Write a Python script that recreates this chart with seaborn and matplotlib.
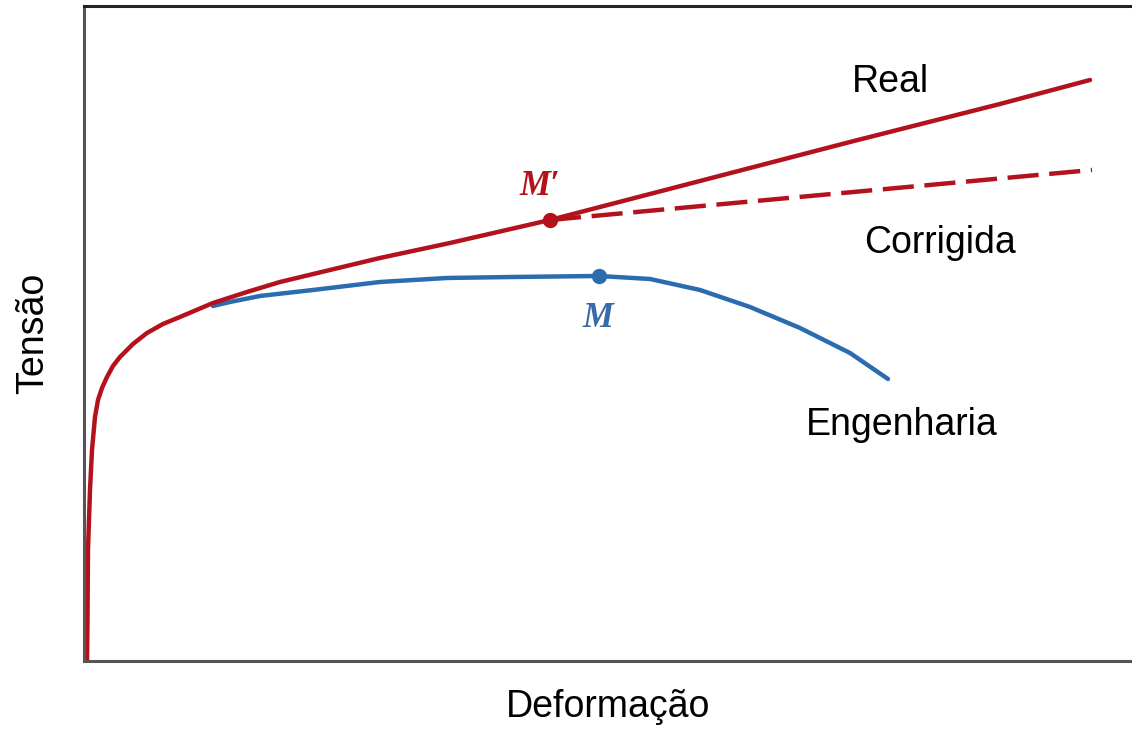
import matplotlib
matplotlib.use("Agg")
import matplotlib.pyplot as plt
import seaborn as sns
import pandas as pd

# curves (arbitrary units: strain -> x, stress -> y)
real_x = [3, 3.5, 4, 6, 8, 11, 14, 18, 23, 29, 36, 49, 63, 79, 96, 129, 163, 196,
          246, 296, 366, 466, 616, 766, 916, 1006]
real_y = [0, 41, 111, 171, 211, 244, 261, 273, 284, 295, 304, 317, 328, 337, 344,
          358, 369, 379, 391, 403, 418, 441, 480, 519, 557, 581]

corr_x = [466, 1008]
corr_y = [441, 491]

eng_x = [129, 146, 176, 229, 296, 363, 429, 515, 566, 616, 666, 716, 766, 804]
eng_y = [355, 359, 365, 371, 379, 383, 384, 385, 382, 371, 354, 333, 308, 282]

m_prime = (466, 441)
m_point = (515, 385)

RED = "#b3121c"
BLUE = "#2b6cb0"

sns.set_style("white")
plt.rcParams["font.family"] = ["Liberation Sans", "DejaVu Sans"]

fig = plt.figure(figsize=(11.32, 7.29), dpi=100)
ax = fig.add_axes([0.0742, 0.0933, 0.9258, 0.8985])

df_real = pd.DataFrame({"x": real_x, "y": real_y})
df_corr = pd.DataFrame({"x": corr_x, "y": corr_y})
df_eng = pd.DataFrame({"x": eng_x, "y": eng_y})

sns.lineplot(data=df_eng, x="x", y="y", sort=False, color=BLUE, lw=3.2, ax=ax)
sns.lineplot(data=df_real, x="x", y="y", sort=False, color=RED, lw=3.2, ax=ax)
sns.lineplot(data=df_corr, x="x", y="y", sort=False, color=RED, lw=3.2, ax=ax,
             linestyle=(0, (7, 2.4)))

ax.plot(*m_prime, "o", color=RED, ms=10, zorder=5)
ax.plot(*m_point, "o", color=BLUE, ms=10, zorder=5)

serif = ["Liberation Serif", "DejaVu Serif"]
ax.text(456, 474, "M\u2032", color=RED, fontsize=25, fontstyle="italic",
        fontweight="bold", family=serif, ha="center", va="center")
ax.text(514, 342, "M", color="#3a6aa8", fontsize=25, fontstyle="italic",
        fontweight="bold", family=serif, ha="center", va="center")

ax.text(806, 579, "Real", fontsize=27, color="black", ha="center", va="center")
ax.text(856, 418, "Corrigida", fontsize=27, color="black", ha="center", va="center")
ax.text(818, 236, "Engenharia", fontsize=27, color="black", ha="center", va="center")

ax.set_xlim(0, 1048)
ax.set_ylim(0, 655)
ax.set_xticks([])
ax.set_yticks([])
ax.set_xlabel("Deformação", fontsize=27, color="black", labelpad=20)
ax.set_ylabel("Tensão", fontsize=27, color="black", labelpad=24)

for side in ["top", "left", "bottom"]:
    ax.spines[side].set_visible(True)
    ax.spines[side].set_linewidth(2.2)
ax.spines["top"].set_color("#222222")
ax.spines["left"].set_color("#555555")
ax.spines["bottom"].set_color("#555555")
ax.spines["right"].set_visible(False)

fig.savefig("out.png", dpi=100)
